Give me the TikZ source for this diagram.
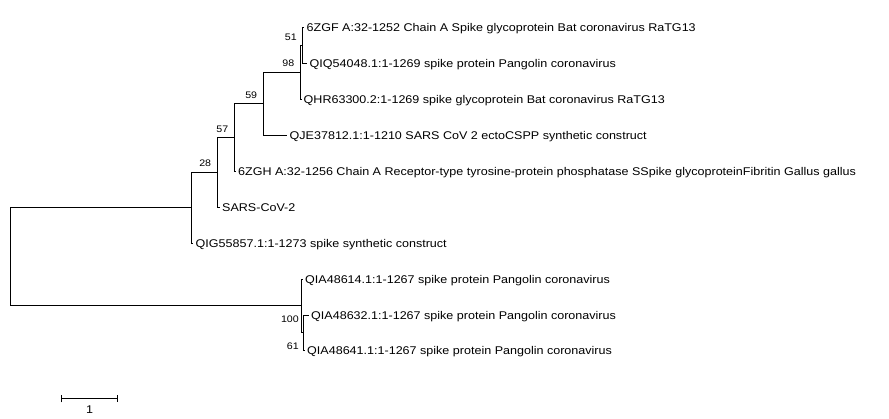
\documentclass[tikz,border=0pt]{standalone}
\usepackage{fontspec}
\setmainfont{Liberation Sans}[FakeStretch=1.12]
\usetikzlibrary{positioning, arrows.meta}

\begin{document}
\begin{tikzpicture}[
    x=1pt, y=-1pt,
    branch/.style={line width=1pt, black},
    leaf/.style={anchor=west, inner xsep=2.5pt, inner ysep=0pt, text height=8pt, text depth=0pt, font=\fontsize{11.2}{13}\selectfont},
    boot/.style={inner sep=0pt, font=\fontsize{9.5}{11}\selectfont},
    scalelbl/.style={inner sep=0pt, font=\fontsize{11.2}{13}\selectfont},
    scalebar/.style={line width=1pt, {Bar[width=7pt]}-{Bar[width=7pt]}}
]
    \useasboundingbox (0,0) rectangle (889,419);

    % Internal nodes
    \coordinate (root) at (10.5, 256.9);
    \coordinate (nup) at (191.7, 207.8);
    \coordinate (n28) at (217.3, 172.4);
    \coordinate (n57) at (234.5, 137.6);
    \coordinate (n59) at (263.3, 103.9);
    \coordinate (n98) at (300.5, 72.4);
    \coordinate (n51) at (302, 45.5);
    \coordinate (n100) at (301.7, 306);
    \coordinate (n61) at (303.3, 333);

    % Leaves
    \node[leaf] (ratga) at (304, 27.5) {6ZGF A:32-1252 Chain A Spike glycoprotein Bat coronavirus RaTG13};
    \node[leaf] (pangoa) at (307, 63.5) {QIQ54048.1:1-1269 spike protein Pangolin coronavirus};
    \node[leaf] (ratgb) at (301, 99.4) {QHR63300.2:1-1269 spike glycoprotein Bat coronavirus RaTG13};
    \node[leaf] (ecto) at (287, 135.3) {QJE37812.1:1-1210 SARS CoV 2 ectoCSPP synthetic construct};
    \node[leaf] (gallus) at (235.5, 171.3) {6ZGH A:32-1256 Chain A Receptor-type tyrosine-protein phosphatase SSpike glycoproteinFibritin Gallus gallus};
    \node[leaf] (sars) at (219.5, 207.3) {SARS-CoV-2};
    \node[leaf] (synth) at (193, 243.2) {QIG55857.1:1-1273 spike synthetic construct};
    \node[leaf] (pangob) at (302.5, 279.2) {QIA48614.1:1-1267 spike protein Pangolin coronavirus};
    \node[leaf] (pangoc) at (308.5, 315.1) {QIA48632.1:1-1267 spike protein Pangolin coronavirus};
    \node[leaf] (pangod) at (304.5, 351) {QIA48641.1:1-1267 spike protein Pangolin coronavirus};

    % Branches
    \draw[branch] (root) |- (nup);
    \draw[branch] (root) |- (n100);
    \draw[branch] (nup) |- (n28);
    \draw[branch] (nup) |- (synth);
    \draw[branch] (n28) |- (n57);
    \draw[branch] (n28) |- (sars);
    \draw[branch] (n57) |- (n59);
    \draw[branch] (n57) |- (gallus);
    \draw[branch] (n59) |- (n98);
    \draw[branch] (n59) |- (ecto);
    \draw[branch] (n98) |- (n51);
    \draw[branch] (n98) |- (ratgb);
    \draw[branch] (n51) |- (ratga);
    \draw[branch] (n51) |- (pangoa);
    \draw[branch] (n100) |- (pangob);
    \draw[branch] (n100) |- (n61);
    \draw[branch] (n61) |- (pangoc);
    \draw[branch] (n61) |- (pangod);

    % Bootstrap values
    \node[boot, left=6pt of n28, yshift=8.7pt] (bs28) {28};
    \node[boot, left=6pt of n57, yshift=8.7pt] (bs57) {57};
    \node[boot, left=6pt of n59, yshift=8.7pt] (bs59) {59};
    \node[boot, left=6pt of n98, yshift=8.7pt] (bs98) {98};
    \node[boot, left=5pt of n51, yshift=8.7pt] (bs51) {51};
    \node[boot, left=2.7pt of n100, yshift=-13pt] (bs100) {100};
    \node[boot, left=4.3pt of n61, yshift=-13.7pt] (bs61) {61};

    % Scale bar
    \coordinate (sbl) at (60.7, 399);
    \coordinate (sbr) at (118.3, 399);
    \draw[scalebar] (sbl) -- node[scalelbl, below=6pt] (sblabel) {1} (sbr);
\end{tikzpicture}
\end{document}
